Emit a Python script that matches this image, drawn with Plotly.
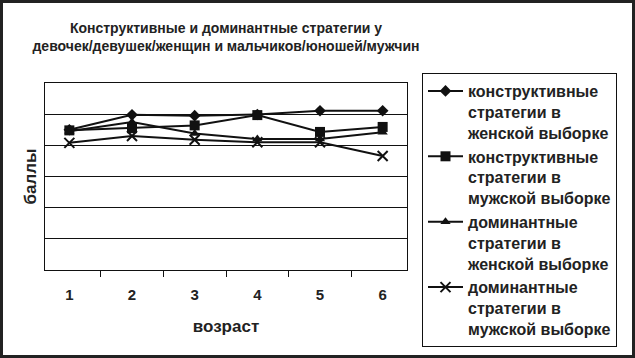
import plotly.graph_objects as go

ages = ["1", "2", "3", "4", "5", "6"]
constr_female = [4.50, 4.98, 4.95, 4.99, 5.11, 5.11]
constr_male = [4.48, 4.55, 4.64, 4.97, 4.43, 4.59]
domin_female = [4.45, 4.75, 4.38, 4.20, 4.20, 4.42]
domin_male = [4.08, 4.30, 4.18, 4.10, 4.10, 3.66]

names = [
    "<b>конструктивные<br>стратегии в<br>женской выборке</b>",
    "<b>конструктивные<br>стратегии в<br>мужской выборке</b>",
    "<b>доминантные<br>стратегии в<br>женской выборке</b>",
    "<b>доминантные<br>стратегии в<br>мужской выборке</b>",
]
series = [constr_female, constr_male, domin_female, domin_male]
symbols = ["diamond", "square", "triangle-up", "x-thin"]
sizes = [9, 10, 9, 10]

W, H = 635, 358
L, R, T, B = 45, 228, 83, 88
pw, ph = W - L - R, H - T - B

fig = go.Figure()
for name, vals, sym, sz in zip(names, series, symbols, sizes):
    fig.add_trace(go.Scatter(
        x=ages, y=vals, name=name, mode="lines+markers",
        line=dict(color="#111", width=2),
        marker=dict(symbol=sym, size=sz, color="#111",
                    line=dict(color="#111", width=2 if sym == "x-thin" else 0)),
    ))

font = "Liberation Sans, Arial, sans-serif"
fig.update_layout(
    width=W, height=H,
    margin=dict(l=L, r=R, t=T, b=B, autoexpand=False),
    paper_bgcolor="white", plot_bgcolor="white",
    font=dict(family=font, color="#222", size=15),
    title=dict(
        text="<b>Конструктивные и доминантные стратегии у<br>девочек/девушек/женщин и мальчиков/юношей/мужчин</b>",
        x=0.5, xref="paper", xanchor="center", y=1 - 33 / H, yanchor="middle",
        font=dict(size=14, family=font, color="#222"),
    ),
    showlegend=True,
    legend=dict(
        x=(422 - L) / pw, xanchor="left", y=1 + (T - 73) / ph, yanchor="top",
        bordercolor="#111", borderwidth=1, bgcolor="white",
        font=dict(size=16, family=font, color="#222"),
        itemwidth=35, maxheight=340, valign="top",
    ),
    xaxis=dict(
        type="category", tickson="boundaries", ticks="outside", ticklen=6,
        tickcolor="#111", tickwidth=1, showline=True, linecolor="#111",
        linewidth=1, mirror=True, showgrid=False,
        tickfont=dict(size=15, family=font), ticklabelstandoff=11,
        title=dict(text="<b>возраст</b>", font=dict(size=17), standoff=18),
    ),
    yaxis=dict(
        range=[0, 6], dtick=1, showticklabels=False, ticks="",
        showgrid=True, gridcolor="#111", gridwidth=1,
        showline=True, linecolor="#111", linewidth=1, mirror=True,
        zeroline=False,
        title=dict(text="<b>баллы</b>", font=dict(size=17), standoff=3),
    ),
)
fig.update_xaxes(ticktext=[f"<b>{a}</b>" for a in ages], tickvals=ages)

fig.add_shape(type="rect", xref="paper", yref="paper",
              x0=(1.5 - L) / pw, x1=(W - 1.5 - L) / pw,
              y0=-(B - 1.5) / ph, y1=1 + (T - 1.5) / ph,
              line=dict(color="#222", width=3), layer="above")

fig.write_html("out.html", config={"displayModeBar": False},
               post_script="document.body.style.margin='0';")
